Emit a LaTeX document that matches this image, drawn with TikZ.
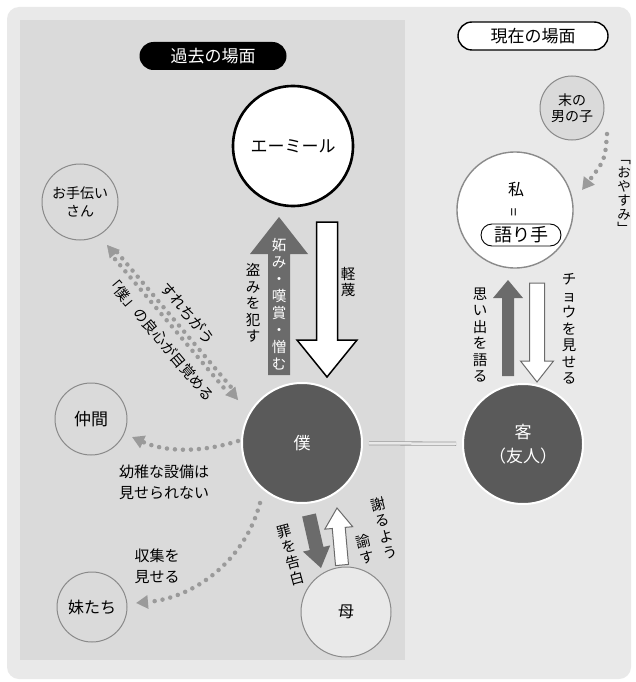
\documentclass[tikz,border=0pt]{standalone}
\usepackage{fontspec}
\usepackage{graphicx}
\setmainfont{Noto Sans CJK JP}
\usetikzlibrary{arrows.meta,calc}
\definecolor{bgout}{HTML}{E9E9E9}
\definecolor{bgleft}{HTML}{DADADA}
\definecolor{darkc}{HTML}{5A5A5A}
\definecolor{darka}{HTML}{6B6B6B}
\definecolor{dotg}{HTML}{9A9A9A}
\definecolor{ringc}{HTML}{8A8A8A}
\newcommand{\fs}[2]{\fontsize{#1}{#2}\selectfont}
% #1 style, #2 tail, #3 tip, #4 shaft half width, #5 head half width, #6 head length
\newcommand{\blockarrow}[6]{%
  \coordinate (ba-h) at ($(#3)!#6!(#2)$);
  \path[#1] ($(#2)!#4!90:(#3)$) -- ($(ba-h)!#4!90:(#3)$) -- ($(ba-h)!#5!90:(#3)$) -- (#3)
    -- ($(ba-h)!#5!-90:(#3)$) -- ($(ba-h)!#4!-90:(#3)$) -- ($(#2)!#4!-90:(#3)$) -- cycle;}
\begin{document}
\begin{tikzpicture}[x=1pt,y=-1pt,
  t/.style={inner sep=0pt, align=center, font=\fs{15}{21}},
  vt/.style={inner sep=0pt, align=center, font=\fs{14.5}{16.5}},
  ring/.style={circle, draw=ringc, line width=1pt, inner sep=0pt, align=center},
  darkcirc/.style={circle, fill=darkc, draw=white, line width=2pt, text=white, inner sep=0pt, align=center, font=\fs{17}{24}},
  dotline/.style={draw=dotg, line width=4.5pt, line cap=round, dash pattern=on 0pt off 8pt},
  dtip/.style={-{Triangle[width=13pt,length=12pt]}},
  tiponly/.style={draw=dotg, line width=0.5pt, -{Triangle[width=13pt,length=12pt]}},
]
\useasboundingbox (0,0) rectangle (636,682);
% background
\fill[white] (0,0) rectangle (636,682);
\fill[bgout, rounded corners=12pt] (7,7) rectangle (631,679);
\fill[bgleft] (20,20) rectangle (405,660);

% titles
\node[fill=black, text=white, rounded corners=14pt, minimum width=147pt, minimum height=28pt, inner sep=0pt, font=\fs{17}{20}] (past) at (213,56) {過去の場面};
\node[fill=white, draw=black, line width=1.4pt, rounded corners=14pt, minimum width=150pt, minimum height=28pt, inner sep=0pt, font=\fs{17}{20}] (present) at (533,36) {現在の場面};

% main circles
\node[circle, draw=black, line width=2.6pt, fill=white, minimum size=120pt, inner sep=0pt, font=\fs{17}{20}] (emil) at (293,146) {エーミール};
\node[darkcirc, minimum size=120pt] (boku) at (302,443) {僕};
\node[darkcirc, minimum size=120pt] (kyaku) at (523,444) {客\\（友人）};
\node[ring, line width=1.4pt, fill=white, minimum size=116pt] (watashi) at (515,210) {};
\node[inner sep=0pt, font=\fs{16}{18}] (wtxt) at (516,189) {私};
\node[inner sep=0pt, font=\fs{15}{16}] (weq) at (516,212) {\rotatebox{90}{=}};
\node[draw=black, line width=0.9pt, rounded corners=11pt, minimum width=80pt, minimum height=22pt, inner sep=0pt, font=\fs{18}{20}] (narr) at (521,235) {語り手};
\node[ring, fill=bgleft, minimum size=64pt, font=\fs{14}{16}] (sue) at (572,108) {末の\\男の子};

% small circles
\node[ring, minimum size=76pt, font=\fs{14}{18}] (otet) at (80,202) {お手伝い\\さん};
\node[ring, minimum size=72pt, font=\fs{17}{20}] (nakama) at (91,419) {仲間};
\node[ring, minimum size=70pt, font=\fs{16}{20}] (imouto) at (92,607) {妹たち};
\node[ring, fill=bgout, minimum size=90pt, font=\fs{16}{20}] (haha) at (346,612) {母};

% block arrows
\coordinate (a1t) at (279,375); \coordinate (a1h) at (279,217);
\blockarrow{fill=darka}{a1t}{a1h}{11pt}{29pt}{37pt}
\coordinate (a2t) at (327,222); \coordinate (a2h) at (327,377);
\blockarrow{fill=white, draw=black, line width=1.5pt, line join=miter}{a2t}{a2h}{10.5pt}{30pt}{37pt}
\coordinate (a3t) at (508,376); \coordinate (a3h) at (508,280);
\blockarrow{fill=darka}{a3t}{a3h}{6pt}{15pt}{18pt}
\coordinate (a4t) at (537,283); \coordinate (a4h) at (537,382);
\blockarrow{fill=white, draw=darka, line width=1pt}{a4t}{a4h}{7.5pt}{16.5pt}{21pt}
\coordinate (a5t) at (309,515); \coordinate (a5h) at (321,568);
\blockarrow{fill=darka}{a5t}{a5h}{7pt}{14pt}{20pt}
\coordinate (a6t) at (342,565); \coordinate (a6h) at (337,508);
\blockarrow{fill=white, draw=darka, line width=1pt}{a6t}{a6h}{6.5pt}{14pt}{20pt}

% double line
\draw[draw=dotg, line width=0.8pt, double=bgout, double distance=2.5pt, shorten <=6pt, shorten >=6pt] (boku) -- (kyaku);

% dotted connectors
\coordinate (oA) at (107,245);
\coordinate (oB) at (238,400);
\coordinate (oA1) at ($(oA)!12pt!(oB)$);
\coordinate (oB1) at ($(oB)!12pt!(oA)$);
\draw[dotline] ($(oA1)!3pt!90:(oB1)$) -- ($(oB1)!3pt!-90:(oA1)$);
\draw[dotline, dash phase=4pt] ($(oA1)!3pt!-90:(oB1)$) -- ($(oB1)!3pt!90:(oA1)$);
\draw[tiponly] (oA1) -- (oA);
\draw[tiponly] (oB1) -- (oB);

\coordinate (nkS) at (238,441);
\coordinate (nkE) at (132,437);
\draw[dotline, dtip] (nkS) .. controls (200,453) and (165,452) .. (nkE);

\coordinate (imS) at (260,503);
\coordinate (imE) at (136,603);
\draw[dotline, dtip] (imS) .. controls (245,560) and (195,598) .. (imE);

\coordinate (suS) at (607,134);
\coordinate (suE) at (582,190);
\draw[dotline, dtip] (suS) .. controls (605,160) .. (suE);

% labels
\node[vt] (l1) at (253,303) {盗\\み\\を\\犯\\す};
\node[vt] (l2) at (348,282) {軽\\蔑};
\node[vt, text=white, font=\fs{14.5}{17}] (l3) at (279,304) {妬\\み\\・\\嘆\\賞\\・\\憎\\む};
\node[vt] (l4) at (480,335) {思\\い\\出\\を\\語\\る};
\node[vt] (l5) at (569,329) {チ\\ョ\\ウ\\を\\見\\せ\\る};
\node[vt, font=\fs{13.5}{14}] (l6) at (624,197) {﹁\\お\\や\\す\\み\\﹂};
\node[t, rotate=-50] (l7) at (188,313) {すれちがう};
\node[t, rotate=-50, font=\fs{14.5}{16}] (l8) at (160,338) {「僕」の良心が目覚める};
\node[t] (l9) at (164,482) {幼稚な設備は\\見せられない};
\node[t] (l10) at (157,566) {収集を\\見せる};
\node[vt, rotate=15] (l11) at (291,555) {罪\\を\\告\\白};
\node[vt, rotate=14] (l12) at (384,528) {謝\\る\\よ\\う};
\node[vt, rotate=14] (l13) at (365,549) {諭\\す};
\end{tikzpicture}
\end{document}
